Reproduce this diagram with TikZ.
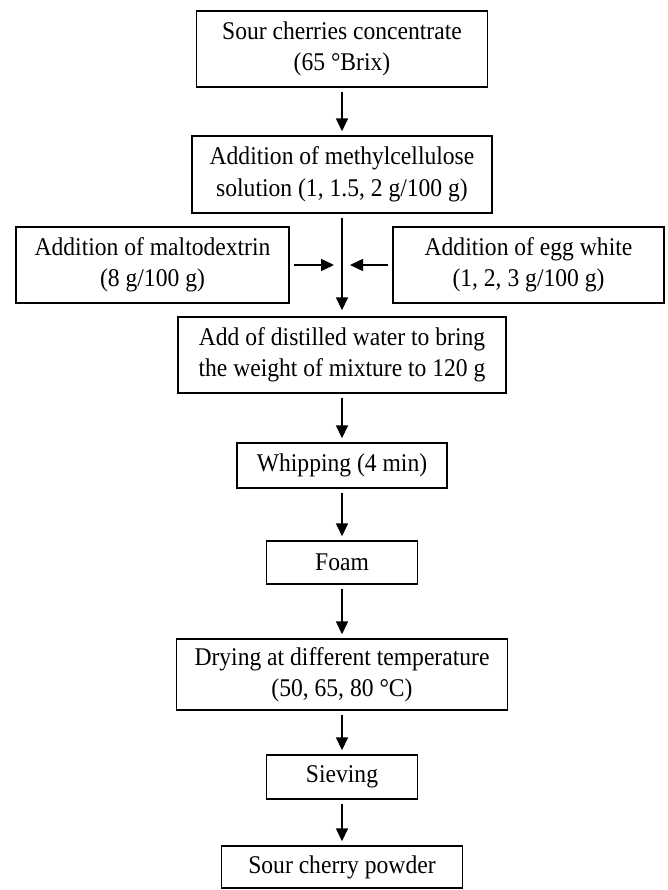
\documentclass[tikz,border=0pt]{standalone}
\usepackage{fontspec}
\setmainfont{Liberation Serif}[FakeStretch=0.925]
\usetikzlibrary{arrows.meta}

\begin{document}
\begin{tikzpicture}[x=1pt, y=-1pt,
	stage/.style={draw, line width=1.4pt, inner sep=0pt, align=center, font=\fontsize{25.5}{31.5}\selectfont},
	flow/.style={line width=1.5pt, -{Triangle[length=13pt, width=12pt]}, shorten <=4pt, shorten >=4pt}]
	\node[stage, minimum width=291, minimum height=76] (concentrate) at (342,49) {Sour cherries concentrate\\(65 °Brix)};
	\node[stage, minimum width=300, minimum height=77] (methyl) at (342,174.5) {Addition of methylcellulose\\solution (1, 1.5, 2 g/100 g)};
	\node[stage, minimum width=273, minimum height=76] (malto) at (152.5,265) {Addition of maltodextrin\\(8 g/100 g)};
	\node[stage, minimum width=271, minimum height=76] (egg) at (528.5,265) {Addition of egg white\\(1, 2, 3 g/100 g)};
	\node[stage, minimum width=328, minimum height=76] (water) at (342,355) {Add of distilled water to bring\\the weight of mixture to 120 g};
	\node[stage, minimum width=210, minimum height=45] (whip) at (342,465.5) {Whipping (4 min)};
	\node[stage, minimum width=151, minimum height=43] (foam) at (342,562.5) {Foam};
	\node[stage, minimum width=331, minimum height=71] (dry) at (342,674.5) {Drying at different temperature\\(50, 65, 80 °C)};
	\node[stage, minimum width=151, minimum height=44] (sieve) at (342,777) {Sieving};
	\node[stage, minimum width=241, minimum height=42] (powder) at (342,867) {Sour cherry powder};
	\coordinate (mix) at (342,265);

	\draw[flow] (concentrate) -- (methyl);
	\draw[flow, shorten >=6pt] (methyl) -- (water);
	\draw[flow, shorten >=8pt] (malto) -- (mix);
	\draw[flow, shorten >=8pt] (egg) -- (mix);
	\draw[flow] (water) -- (whip);
	\draw[flow] (whip) -- (foam);
	\draw[flow] (foam) -- (dry);
	\draw[flow] (dry) -- (sieve);
	\draw[flow] (sieve) -- (powder);

\path (0,0) to (668,890);
\end{tikzpicture}
\end{document}
